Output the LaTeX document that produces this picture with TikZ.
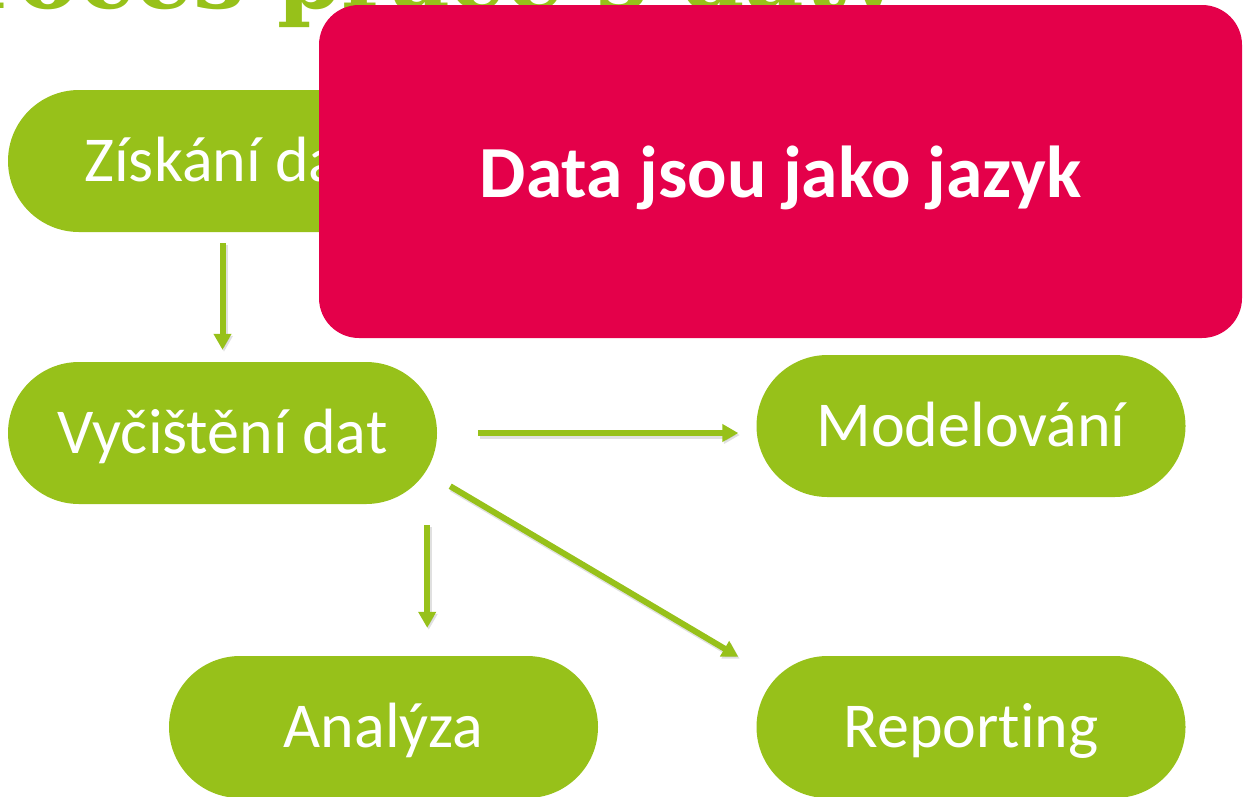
\documentclass[tikz,border=0pt]{standalone}
\usepackage{fontspec}
\setmainfont{Carlito}[Ligatures=NoCommon]
\newfontfamily\titlefont{DejaVu Serif}
\usetikzlibrary{arrows.meta}
\definecolor{leaf}{HTML}{97C11A}
\definecolor{alert}{HTML}{E4004A}
\colorlet{fg}{white}
\tikzset{pill/.style={
    fill=leaf,text=fg,rounded corners=71pt,
    minimum width=429pt,minimum height=142pt,inner sep=0pt,
    font=\fontsize{64}{70}\selectfont,text height=41pt,text depth=0pt
}}
\tikzset{flow/.style={
    leaf,line width=6pt,-{Triangle[length=16pt,width=17pt]},
    preaction={draw=black,opacity=.12,line width=7pt,transform canvas={shift={(1.5pt,-2pt)}}}
}}
\tikzset{banner/.style={
    fill=alert,text=fg,rounded corners=40pt,
    minimum width=923pt,minimum height=333pt,inner sep=0pt,
    font=\bfseries\fontsize{73.5}{80}\selectfont,text height=51pt,text depth=0pt
}}

\begin{document}
\begin{tikzpicture}[x=1pt,y=-1pt]
	    \useasboundingbox (0,0) rectangle (1246,796);
	    \node[anchor=base west,inner sep=0pt,text=leaf,font=\titlefont\bfseries\fontsize{92}{100}\selectfont] (title) at (-100,8) {Proces práce s daty};
	    \node[pill] (zisk) at (222.5,161) {Získání dat};
	    \node[pill] (cist) at (222.5,433) {Vyčištění dat};
	    \node[pill] (model) at (971,426) {Modelování};
	    \node[pill] (anal) at (383.5,727) {Analýza};
	    \node[pill] (report) at (971,727) {Reporting};
	    \draw[flow,shorten <=11pt,shorten >=12pt] (zisk.south) -- (cist.north);
	    \draw[flow,shorten <=41pt,shorten >=18pt] (cist.east) -- (cist.east -| model.west);
	    \draw[flow,shorten <=21pt,shorten >=28pt] ([xshift=-10pt]cist.south east) -- ([xshift=-10pt]cist.south east |- anal.north);
	    \draw[flow] ([shift={(13pt,18pt)}]cist.south east) -- ([shift={(-18pt,-1pt)}]report.north west);
	    \node[banner] (lang) at (780.5,171.5) {Data jsou jako jazyk};
        \end{tikzpicture}
\end{document}
